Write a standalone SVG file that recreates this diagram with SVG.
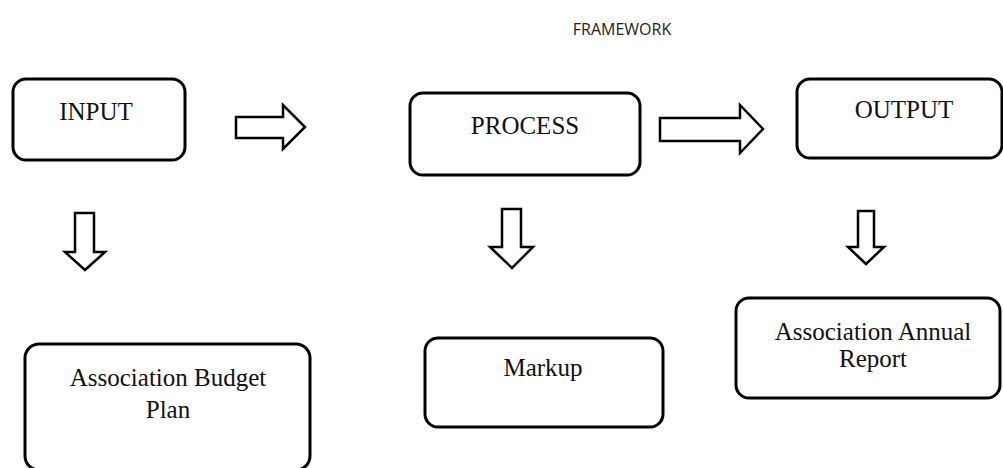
<svg xmlns="http://www.w3.org/2000/svg" width="1003" height="468" viewBox="0 0 1003 468">
  <style>
    .box { fill: #ffffff; stroke: #000000; stroke-width: 3; }
    .arrow { fill: #ffffff; stroke: #000000; stroke-width: 2.5; stroke-linejoin: miter; }
    .label { font-family: "Liberation Serif", "Times New Roman", serif; font-size: 25px; fill: #111111; text-anchor: middle; }
    .title { font-family: "Open Sans", "Liberation Sans", sans-serif; font-size: 16px; fill: #222222; text-anchor: middle; }
  </style>
  <rect width="1003" height="468" fill="#ffffff"/>

  <text class="title" x="622" y="35">FRAMEWORK</text>

  <!-- block arrows -->
  <g id="connectors">
    <polygon class="arrow" points="236,117 283,117 283,105 305,127 283,149 283,138 236,138"/>
    <polygon class="arrow" points="660,118 740,118 740,105 763,129 740,153 740,141 660,141"/>
    <polygon class="arrow" points="75,213 94,213 94,252 105,252 85,270 65,252 75,252"/>
    <polygon class="arrow" points="502,209 521,209 521,247 533,247 512,268 490,247 502,247"/>
    <polygon class="arrow" points="858,211 874,211 874,247 884,247 866,264 848,247 858,247"/>
  </g>

  <g id="input">
    <rect class="box" x="13" y="79" width="172" height="81" rx="13"/>
    <text class="label" x="96" y="120">INPUT</text>
  </g>

  <g id="process">
    <rect class="box" x="410" y="93" width="230" height="82" rx="13"/>
    <text class="label" x="525" y="134">PROCESS</text>
  </g>

  <g id="output">
    <rect class="box" x="797" y="79" width="205" height="79" rx="13"/>
    <text class="label" x="904" y="118">OUTPUT</text>
  </g>

  <g id="budget-plan">
    <rect class="box" x="25" y="344" width="285" height="126" rx="14"/>
    <text class="label" x="168" y="386">Association Budget</text>
    <text class="label" x="168" y="418">Plan</text>
  </g>

  <g id="markup">
    <rect class="box" x="425" y="338" width="238" height="89" rx="13"/>
    <text class="label" x="543" y="376">Markup</text>
  </g>

  <g id="annual-report">
    <rect class="box" x="736" y="298" width="264" height="100" rx="13"/>
    <text class="label" x="873" y="340">Association Annual</text>
    <text class="label" x="873" y="367">Report</text>
  </g>
</svg>
